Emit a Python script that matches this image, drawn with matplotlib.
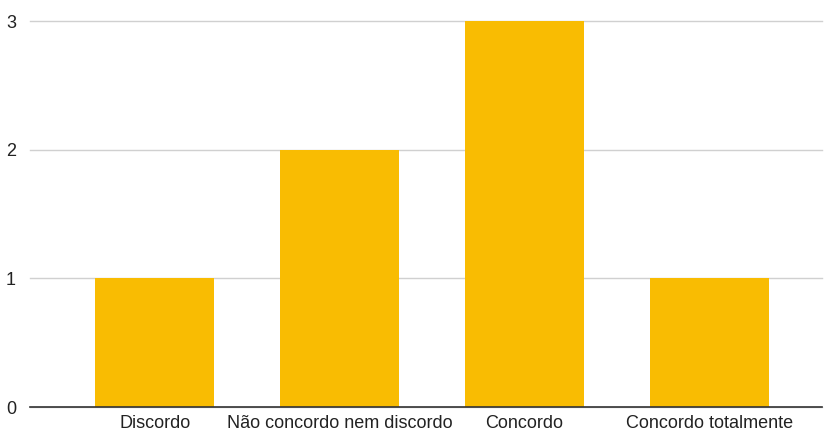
import matplotlib
matplotlib.use("Agg")
import matplotlib.pyplot as plt

plt.rcParams["font.family"] = ["Liberation Sans", "DejaVu Sans"]

categories = ["Discordo", "Não concordo nem discordo", "Concordo", "Concordo totalmente"]
counts = [1, 2, 3, 1]
yticks = [0, 1, 2, 3]

fig = plt.figure(figsize=(8.24, 4.33), dpi=100)
ax = fig.add_axes([30 / 824, 1 - 407 / 433, (822 - 30) / 824, (407 - 21) / 433])

x = list(range(len(categories)))
ax.bar(x, counts, width=0.644, color="#F9BC02", zorder=2)

ax.set_xlim(-0.676, 3.609)
ax.set_ylim(0, 3)
ax.set_yticks(yticks)
ax.set_xticks(x)
ax.set_xticklabels(categories)

ax.grid(axis="y", color="#d0d0d0", linewidth=1, zorder=0)
for line in ax.get_ygridlines():
    line.set_clip_on(False)

for side in ["top", "right", "left"]:
    ax.spines[side].set_visible(False)
ax.spines["bottom"].set_color("#333333")
ax.spines["bottom"].set_linewidth(1.2)
ax.spines["bottom"].set_zorder(3)

ax.tick_params(axis="both", length=0, labelsize=13, colors="#222222")
ax.tick_params(axis="x", pad=6)
ax.tick_params(axis="y", pad=10)

fig.savefig("out.png", dpi=100)
plt.close(fig)
